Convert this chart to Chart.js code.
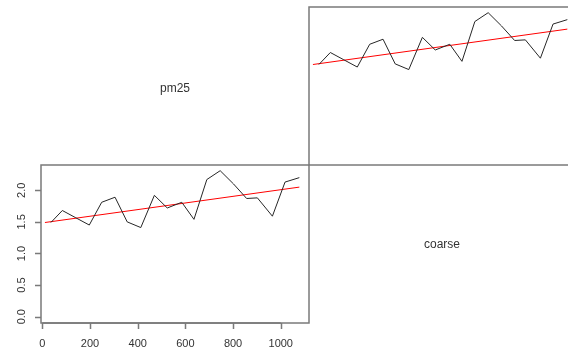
<!DOCTYPE html>
<html>
<head>
<meta charset="utf-8">
<script src="https://cdn.jsdelivr.net/npm/chart.js@4"></script>
<style>
  html, body { margin: 0; padding: 0; background: #fff; overflow: hidden; }
  #wrap { position: relative; width: 568px; height: 354px; overflow: hidden; }
  canvas { position: absolute; left: 0; top: 0; }
  .lbl { position: absolute; font: 12px "Liberation Sans", Arial, sans-serif; color: #333;
         transform: translate(-50%, -50%); white-space: nowrap; }
</style>
</head>
<body>
<div id="wrap">
  <canvas id="lower" width="568" height="354"></canvas>
  <canvas id="upper" width="600" height="354"></canvas>
  <div class="lbl" style="left:175px; top:88px;">pm25</div>
  <div class="lbl" style="left:442px; top:244px;">coarse</div>
</div>
<script>
// data
const days = [36, 84, 138, 197, 249, 305, 356, 413, 470, 524, 585, 636, 690, 746, 802, 857, 902, 965, 1018, 1078];
const pm25 = [1.49, 1.68, 1.57, 1.45, 1.81, 1.89, 1.50, 1.41, 1.92, 1.72, 1.81, 1.54, 2.17, 2.31, 2.10, 1.87, 1.88, 1.59, 2.13, 2.20];
const trendDays = [11, 1078];
const trendVals = [1.49, 2.05];
const xTicks = [0, 200, 400, 600, 800, 1000];
const yTicks = [0, 0.5, 1, 1.5, 2];

const xMin = -5.5, xMax = 1118.5;
const yMin = -0.1, yMax = 2.4;

function toPoints(xs, ys) {
  return xs.map((x, i) => ({ x: x, y: ys[i] }));
}

function makeDatasets() {
  return [
    {
      data: toPoints(days, pm25),
      borderColor: "#262626",
      borderWidth: 1,
      pointRadius: 0,
      tension: 0,
    },
    {
      data: toPoints(trendDays, trendVals),
      borderColor: "#ff0000",
      borderWidth: 1,
      pointRadius: 0,
      tension: 0,
    },
  ];
}

// box + R style axes
const rAxes = {
  id: "rAxes",
  afterDraw(chart, args, opts) {
    const ctx = chart.ctx;
    const a = chart.chartArea;
    ctx.save();
    ctx.strokeStyle = "#7a7a7a";
    ctx.lineWidth = 1.5;
    ctx.strokeRect(a.left, a.top, a.right - a.left, a.bottom - a.top);

    if (opts.axes) {
      const xs = chart.scales.x;
      const ys = chart.scales.y;
      ctx.fillStyle = "#333";
      ctx.font = '11px "Liberation Sans", Arial, sans-serif';

      // x axis
      ctx.beginPath();
      ctx.moveTo(xs.getPixelForValue(xTicks[0]), a.bottom);
      ctx.lineTo(xs.getPixelForValue(xTicks[xTicks.length - 1]), a.bottom);
      xTicks.forEach((t) => {
        const px = Math.round(xs.getPixelForValue(t)) + 0.5;
        ctx.moveTo(px, a.bottom);
        ctx.lineTo(px, a.bottom + 6);
      });
      ctx.stroke();
      ctx.textAlign = "center";
      ctx.textBaseline = "middle";
      xTicks.forEach((t) => {
        ctx.fillText(String(t), xs.getPixelForValue(t), a.bottom + 21);
      });

      // y axis
      ctx.beginPath();
      yTicks.forEach((t) => {
        const py = Math.round(ys.getPixelForValue(t)) + 0.5;
        ctx.moveTo(a.left, py);
        ctx.lineTo(a.left - 6, py);
      });
      ctx.stroke();
      yTicks.forEach((t) => {
        const py = ys.getPixelForValue(t);
        ctx.save();
        ctx.translate(a.left - 19, py);
        ctx.rotate(-Math.PI / 2);
        ctx.fillText(t.toFixed(1), 0, 0);
        ctx.restore();
      });
    }
    ctx.restore();
  },
};

function makeChart(id, padding, axes) {
  return new Chart(document.getElementById(id), {
    type: "line",
    data: { datasets: makeDatasets() },
    options: {
      responsive: false,
      animation: false,
      devicePixelRatio: 1,
      layout: { padding: padding },
      plugins: { legend: { display: false }, tooltip: { enabled: false }, rAxes: { axes: axes } },
      scales: {
        x: { type: "linear", min: xMin, max: xMax, display: false },
        y: { type: "linear", min: yMin, max: yMax, display: false },
      },
    },
    plugins: [rAxes],
  });
}

// lower-left panel with axes
makeChart("lower", { left: 41, top: 165, right: 568 - 309, bottom: 354 - 323 }, true);
// upper-right panel, runs past the window edge
makeChart("upper", { left: 309, top: 7, right: 600 - 577, bottom: 354 - 165 }, false);
</script>
</body>
</html>
